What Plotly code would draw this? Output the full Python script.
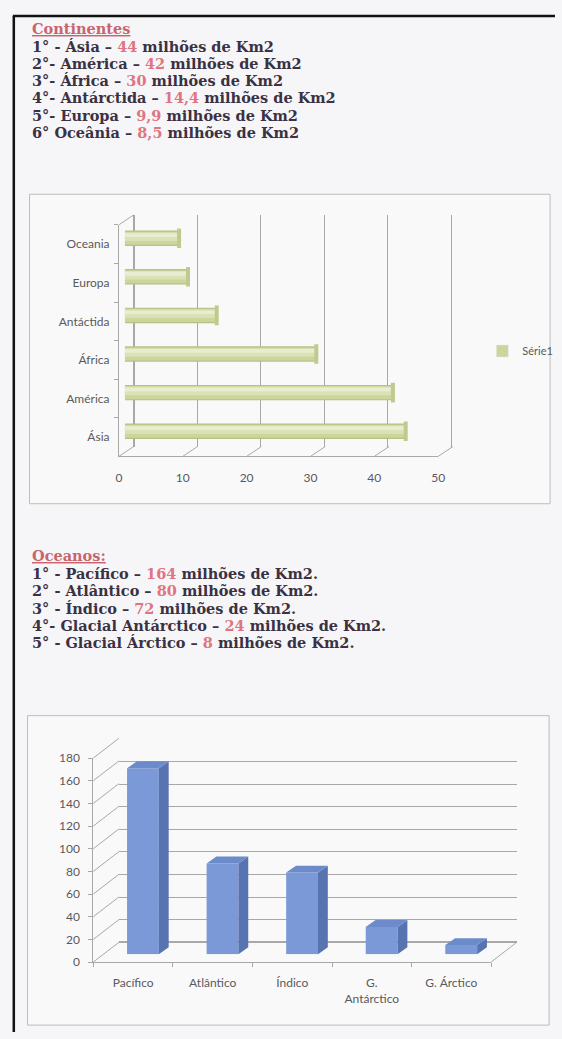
import plotly.graph_objects as go

W, H = 562, 1039

# ---------------- data ----------------
cont_text_names = ["Ásia", "América", "África", "Antárctida", "Europa", "Oceânia"]
cont_text_prefix = ["1° - ", "2°- ", "3°- ", "4°- ", "5°- ", "6° "]
cont_chart_names = ["Ásia", "América", "África", "Antáctida", "Europa", "Oceania"]
cont_values = [44, 42, 30, 14.4, 9.9, 8.5]

ocean_text_names = ["Pacífico", "Atlântico", "Índico", "Glacial Antárctico", "Glacial Árctico"]
ocean_text_prefix = ["1° - ", "2° - ", "3° - ", "4°- ", "5° - "]
ocean_chart_names = ["Pacífico", "Atlântico", "Índico", "G.<br>Antárctico", "G. Árctico"]
ocean_values = [164, 80, 72, 24, 8]

cont_ticks = [0, 10, 20, 30, 40, 50]
ocean_ticks = [0, 20, 40, 60, 80, 100, 120, 140, 160, 180]

# ---------------- helpers ----------------
def px(x):
    return x / W

def py(y):
    return 1 - y / H

def fmt(v):
    s = ("%g" % v)
    return s.replace(".", ",")

TXT = "#3b3142"
NUM = "#e07480"
TITLE = "#c9646f"
LBL = "#5a5a5a"
GRID = "#a8a8a8"
SERIF = "DejaVu Serif"
SANS = "Lato"
TFS = 14.5
LS = 17.4

fig = go.Figure()
annotations = []
shapes = []

# ---------------- text blocks ----------------
annotations.append(dict(x=px(27), y=py(21), xref="paper", yref="paper", xanchor="left", yanchor="middle",
                        showarrow=False, text="<b><span style='text-decoration:underline'>Continentes</span></b>",
                        font=dict(family=SERIF, size=TFS, color=TITLE)))
for i, (p, n, v) in enumerate(zip(cont_text_prefix, cont_text_names, cont_values)):
    annotations.append(dict(x=px(27), y=py(39 + LS * i), xref="paper", yref="paper", xanchor="left",
                            yanchor="middle", showarrow=False,
                            text="<b>%s%s – <span style='color:%s'>%s</span> milhões de Km2</b>" % (p, n, NUM, fmt(v)),
                            font=dict(family=SERIF, size=TFS, color=TXT)))

annotations.append(dict(x=px(27), y=py(556), xref="paper", yref="paper", xanchor="left", yanchor="middle",
                        showarrow=False, text="<b><span style='text-decoration:underline'>Oceanos:</span></b>",
                        font=dict(family=SERIF, size=TFS, color=TITLE)))
for i, (p, n, v) in enumerate(zip(ocean_text_prefix, ocean_text_names, ocean_values)):
    annotations.append(dict(x=px(27), y=py(574 + LS * i), xref="paper", yref="paper", xanchor="left",
                            yanchor="middle", showarrow=False,
                            text="<b>%s%s – <span style='color:%s'>%s</span> milhões de Km2.</b>" % (p, n, NUM, fmt(v)),
                            font=dict(family=SERIF, size=TFS, color=TXT)))

# ---------------- chart boxes / page border ----------------
shapes.append(dict(type="rect", xref="paper", yref="paper", x0=px(27), x1=px(557), y0=py(503), y1=py(189),
                   line=dict(color="#bdbdbd", width=1), fillcolor="rgba(255,255,255,0.35)", layer="below"))
shapes.append(dict(type="rect", xref="paper", yref="paper", x0=px(25), x1=px(556), y0=py(1032), y1=py(718),
                   line=dict(color="#bdbdbd", width=1), fillcolor="rgba(255,255,255,0.35)", layer="below"))
shapes.append(dict(type="line", xref="paper", yref="paper", x0=px(11), x1=px(11), y0=py(8), y1=0,
                   line=dict(color="#111111", width=2.5)))
shapes.append(dict(type="line", xref="paper", yref="paper", x0=px(10), x1=1, y0=py(8), y1=py(8),
                   line=dict(color="#111111", width=2.5)))

# ================= chart 1 : horizontal cylinders =================
F1_X0, F1_X1, F1_YB, F1_YT = 118, 443, 455, 220       # front plane
B1_DX, B1_DY = 15, -10                                 # back-wall offset
M1_DX, M1_DY = 6, -6                                   # bar plane offset
sc1 = (F1_X1 - F1_X0) / 50.0

fig.add_trace(go.Scatter(x=[None], y=[None], xaxis="x2", yaxis="y2", showlegend=False))
for t in cont_ticks:
    xf = F1_X0 + sc1 * t
    shapes.append(dict(type="line", xref="paper", yref="paper", x0=px(xf), y0=py(F1_YB),
                       x1=px(xf + B1_DX), y1=py(F1_YB + B1_DY), line=dict(color=GRID, width=1)))
shapes.append(dict(type="line", xref="paper", yref="paper", x0=px(F1_X0), y0=py(F1_YT),
                   x1=px(F1_X0 + B1_DX), y1=py(F1_YT + B1_DY), line=dict(color=GRID, width=1)))

layers = [
    (0.40, 0.0, "#b4c284"),
    (0.34, 0.0, "#ccd59c"),
    (0.22, 0.04, "#dbe1b5"),
    (0.10, 0.08, "#e8ecd0"),
]
for wd, sh, col in layers:
    fig.add_trace(go.Bar(
        x=cont_values, y=cont_chart_names, orientation="h", xaxis="x3", yaxis="y3",
        width=wd, offset=-wd / 2 + sh, marker=dict(color=col, line=dict(width=0)),
        name="Série1", showlegend=False, hoverinfo="skip"))
fig.add_trace(go.Bar(
    x=[None], y=[None], orientation="h", xaxis="x3", yaxis="y3",
    marker=dict(color="#ccd59c"), name="Série1", showlegend=True))
fig.add_trace(go.Scatter(
    x=cont_values, y=cont_chart_names, xaxis="x3", yaxis="y3", mode="markers",
    marker=dict(symbol="line-ns", size=14, line=dict(color="#bfcb8e", width=4)),
    showlegend=False, hoverinfo="skip"))

fig.add_trace(go.Scatter(x=[None], y=cont_chart_names[:1], xaxis="x", yaxis="y", showlegend=False))

# ================= chart 2 : 3D columns =================
F2_X0, F2_X1, F2_YB, F2_YT = 92, 497, 968, 761
B2_DX, B2_DY = 26, -20
M2_DX, M2_DY = 10, -8
sc2 = (F2_YB - F2_YT) / 180.0
cw2 = (F2_X1 - F2_X0) / 5.0

for t in ocean_ticks:
    yf = F2_YB - sc2 * t
    shapes.append(dict(type="line", xref="paper", yref="paper", x0=px(F2_X0), y0=py(yf),
                       x1=px(F2_X0 + B2_DX), y1=py(yf + B2_DY), line=dict(color=GRID, width=1)))
shapes.append(dict(type="line", xref="paper", yref="paper", x0=px(F2_X1), y0=py(F2_YB),
                   x1=px(F2_X1 + B2_DX), y1=py(F2_YB + B2_DY), line=dict(color=GRID, width=1)))
fig.add_trace(go.Scatter(x=[None], y=[None], xaxis="x5", yaxis="y5", showlegend=False))

bw = 0.40
dxu = 10 / cw2
dyu = 7 / sc2
FRONT, SIDE, TOP = "#7b99d6", "#5874b0", "#6c8bcb"
idx = list(range(len(ocean_values)))
fig.add_trace(go.Bar(x=idx, y=ocean_values, width=bw, xaxis="x6", yaxis="y6",
                     marker=dict(color=FRONT, line=dict(width=0)), showlegend=False, hoverinfo="skip"))
for i, v in zip(idx, ocean_values):
    xs = [i + bw / 2, i + bw / 2 + dxu, i + bw / 2 + dxu, i + bw / 2, i + bw / 2]
    ys = [0, dyu, v + dyu, v, 0]
    fig.add_trace(go.Scatter(x=xs, y=ys, xaxis="x6", yaxis="y6", mode="lines", fill="toself",
                             fillcolor=SIDE, line=dict(width=0), showlegend=False, hoverinfo="skip"))
    xt = [i - bw / 2, i + bw / 2, i + bw / 2 + dxu, i - bw / 2 + dxu, i - bw / 2]
    yt = [v, v, v + dyu, v + dyu, v]
    fig.add_trace(go.Scatter(x=xt, y=yt, xaxis="x6", yaxis="y6", mode="lines", fill="toself",
                             fillcolor=TOP, line=dict(width=0), showlegend=False, hoverinfo="skip"))

fig.add_trace(go.Scatter(x=ocean_chart_names[:1], y=[None], xaxis="x4", yaxis="y4", showlegend=False))

axfont = dict(family=SANS, size=12, color=LBL)

fig.update_layout(
    width=W, height=H, autosize=False,
    margin=dict(l=0, r=0, t=0, b=0),
    paper_bgcolor="#f6f6f8", plot_bgcolor="rgba(0,0,0,0)",
    annotations=annotations, shapes=shapes,
    barmode="overlay",
    showlegend=True,
    legend=dict(x=px(488), y=py(348), xanchor="left", yanchor="middle", bgcolor="rgba(0,0,0,0)",
                font=dict(family=SANS, size=11, color=LBL), itemwidth=30),
    xaxis=dict(domain=[px(F1_X0), px(F1_X1)], range=[0, 50], tickvals=cont_ticks, showgrid=False,
               zeroline=False, showline=True, linecolor=GRID, ticks="", tickfont=axfont,
               ticklabelstandoff=10, anchor="y", fixedrange=True),
    yaxis=dict(domain=[py(F1_YB), py(F1_YT)], type="category", categoryarray=cont_chart_names,
               categoryorder="array", range=[-0.5, 5.5], showgrid=False, zeroline=False, showline=True,
               linecolor=GRID, ticks="outside", tickson="boundaries", ticklen=4, tickcolor=GRID,
               tickfont=axfont, ticklabelstandoff=6, anchor="x", fixedrange=True),
    xaxis2=dict(domain=[px(F1_X0 + B1_DX), px(F1_X1 + B1_DX)], range=[0, 50.2], tickvals=cont_ticks,
                showgrid=True, gridcolor=GRID, gridwidth=1, zeroline=True, zerolinecolor=GRID,
                showticklabels=False, showline=False, anchor="y2", fixedrange=True),
    yaxis2=dict(domain=[py(F1_YB + B1_DY), py(F1_YT + B1_DY)], range=[0, 1], showgrid=False,
                zeroline=False, showticklabels=False, anchor="x2", fixedrange=True),
    xaxis3=dict(domain=[px(F1_X0 + M1_DX), px(F1_X1 + M1_DX)], range=[0, 50], visible=False,
                anchor="y3", fixedrange=True),
    yaxis3=dict(domain=[py(F1_YB + M1_DY), py(F1_YT + M1_DY)], type="category",
                categoryarray=cont_chart_names, categoryorder="array", range=[-0.5, 5.5],
                visible=False, anchor="x3", fixedrange=True),
    xaxis4=dict(domain=[px(F2_X0), px(F2_X1)], type="category", categoryarray=ocean_chart_names,
                categoryorder="array", range=[-0.5, 4.5], showgrid=False, zeroline=False, showline=True,
                linecolor=GRID, ticks="outside", tickson="boundaries", ticklen=4, tickcolor=GRID,
                tickfont=axfont, ticklabelstandoff=10, anchor="y4", fixedrange=True),
    yaxis4=dict(domain=[py(F2_YB), py(F2_YT)], range=[0, 180], tickvals=ocean_ticks, showgrid=False,
                zeroline=False, showline=True, linecolor=GRID, ticks="outside", ticklen=4,
                tickcolor=GRID, tickfont=axfont, ticklabelstandoff=6, anchor="x4", fixedrange=True),
    xaxis5=dict(domain=[px(F2_X0 + B2_DX), px(F2_X1 + B2_DX)], range=[0, 1], showgrid=False,
                zeroline=False, showticklabels=False, anchor="y5", fixedrange=True),
    yaxis5=dict(domain=[py(F2_YB + B2_DY), py(F2_YT + B2_DY)], range=[0, 180.5], tickvals=ocean_ticks,
                showgrid=True, gridcolor=GRID, gridwidth=1, zeroline=True, zerolinecolor=GRID,
                showticklabels=False, anchor="x5", fixedrange=True),
    xaxis6=dict(domain=[px(F2_X0 + M2_DX), px(F2_X1 + M2_DX)], range=[-0.5, 4.5], visible=False,
                anchor="y6", fixedrange=True),
    yaxis6=dict(domain=[py(F2_YB + M2_DY), py(F2_YT + M2_DY)], range=[0, 180], visible=False,
                anchor="x6", fixedrange=True),
)

fig.write_html("out.html", config={"displayModeBar": False},
               post_script="document.body.style.margin='0';document.body.style.padding='0';"
                           "document.documentElement.style.overflow='hidden';")
